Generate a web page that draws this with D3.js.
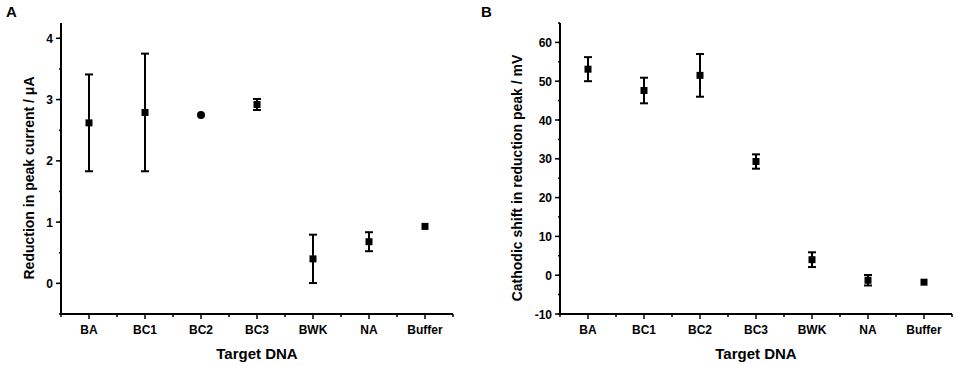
<!DOCTYPE html>
<html>
<head>
<meta charset="utf-8">
<script src="https://cdn.jsdelivr.net/npm/d3@7/dist/d3.min.js"></script>
<style>
  body { margin: 0; background: #fff; }
  svg { font-family: "Liberation Sans", Arial, sans-serif; font-weight: bold; }
</style>
</head>
<body>
<svg id="chart" width="957" height="366"></svg>
<script>
const categories = ["BA", "BC1", "BC2", "BC3", "BWK", "NA", "Buffer"];

// panel A: reduction in peak current (uA)
const currentMean = [2.62, 2.79, 2.75, 2.92, 0.40, 0.68, 0.93];
const currentErr = [0.79, 0.96, 0.02, 0.09, 0.395, 0.155, 0.02];
const currentShape = ["square", "square", "circle", "square", "square", "square", "square"];
const currentTicks = [0, 1, 2, 3, 4];

// panel B: cathodic shift (mV)
const shiftMean = [53.1, 47.6, 51.5, 29.3, 4.0, -1.3, -1.8];
const shiftErr = [3.1, 3.3, 5.5, 1.85, 1.9, 1.35, 0.2];
const shiftTicks = [-10, 0, 10, 20, 30, 40, 50, 60];

const svg = d3.select("#chart");

function panel(opt) {
  let g = svg.append("g");
  let x = d3.scaleLinear().domain([0.5, 7.5]).range([opt.left, opt.left + 392]);
  let y = d3.scaleLinear().domain(opt.yDomain).range([314, 23]);

  // y axis
  let yMinor = [];
  for (let v = opt.yDomain[0]; v <= opt.yDomain[1] + 1e-9; v += opt.minorStep) yMinor.push(v);

  g.append("line")
    .attr("x1", opt.left).attr("x2", opt.left)
    .attr("y1", y.range()[0]).attr("y2", y.range()[1])
    .attr("stroke", "#000").attr("stroke-width", 2);

  g.selectAll(".yminor").data(yMinor).enter().append("line")
    .attr("x1", opt.left - 2).attr("x2", opt.left)
    .attr("y1", (d) => y(d)).attr("y2", (d) => y(d))
    .attr("stroke", "#000").attr("stroke-width", 1.5);

  g.selectAll(".ymajor").data(opt.ticks).enter().append("line")
    .attr("x1", opt.left - 5).attr("x2", opt.left)
    .attr("y1", (d) => y(d)).attr("y2", (d) => y(d))
    .attr("stroke", "#000").attr("stroke-width", 1.5);

  g.selectAll(".ylab").data(opt.ticks).enter().append("text")
    .attr("x", opt.left - 8).attr("y", (d) => y(d) + 4.5)
    .attr("text-anchor", "end").attr("font-size", 12)
    .text((d) => d);

  // x axis
  g.append("line")
    .attr("x1", x(0.5)).attr("x2", x(7.5))
    .attr("y1", 314).attr("y2", 314)
    .attr("stroke", "#000").attr("stroke-width", 2);

  let xMinor = d3.range(0.5, 7.6, 1);
  g.selectAll(".xminor").data(xMinor).enter().append("line")
    .attr("x1", (d) => x(d)).attr("x2", (d) => x(d))
    .attr("y1", 314).attr("y2", 317)
    .attr("stroke", "#000").attr("stroke-width", 1.5);

  g.selectAll(".xmajor").data(categories).enter().append("line")
    .attr("x1", (d, i) => x(i + 1)).attr("x2", (d, i) => x(i + 1))
    .attr("y1", 314).attr("y2", 319)
    .attr("stroke", "#000").attr("stroke-width", 1.5);

  g.selectAll(".xlab").data(categories).enter().append("text")
    .attr("x", (d, i) => x(i + 1)).attr("y", 334)
    .attr("text-anchor", "middle").attr("font-size", 12)
    .text((d) => d);

  g.append("text")
    .attr("x", x(4)).attr("y", 359)
    .attr("text-anchor", "middle").attr("font-size", 15)
    .text("Target DNA");

  g.append("text")
    .attr("transform", "translate(" + opt.titleX + ",178) rotate(-90)")
    .attr("text-anchor", "middle").attr("font-size", 14)
    .text(opt.title);

  g.append("text")
    .attr("x", opt.letterX).attr("y", 17)
    .attr("font-size", 15)
    .text(opt.letter);

  let pts = g.selectAll(".pt").data(opt.mean).enter().append("g");

  // error bars (skip the ones hidden behind the marker)
  pts.each(function (d, i) {
    let e = opt.err[i];
    if (y(d - e) - y(d + e) < 4) return;
    let s = d3.select(this);
    let cx = x(i + 1);
    s.append("line").attr("x1", cx).attr("x2", cx)
      .attr("y1", y(d - e)).attr("y2", y(d + e))
      .attr("stroke", "#000").attr("stroke-width", 2);
    [d - e, d + e].forEach(function (v) {
      s.append("line").attr("x1", cx - 4).attr("x2", cx + 4)
        .attr("y1", y(v)).attr("y2", y(v))
        .attr("stroke", "#000").attr("stroke-width", 2);
    });
  });

  // markers
  pts.each(function (d, i) {
    let s = d3.select(this);
    if (opt.shape && opt.shape[i] === "circle") {
      s.append("circle").attr("cx", x(i + 1)).attr("cy", y(d)).attr("r", 4).attr("fill", "#000");
    } else {
      s.append("rect").attr("x", x(i + 1) - 3.5).attr("y", y(d) - 3.5)
        .attr("width", 7).attr("height", 7).attr("fill", "#000");
    }
  });
}

panel({
  left: 61, yDomain: [-0.5, 4.25], ticks: currentTicks, minorStep: 0.5,
  mean: currentMean, err: currentErr, shape: currentShape,
  title: "Reduction in peak current / \u03bcA", titleX: 34,
  letter: "A", letterX: 6
});

panel({
  left: 560, yDomain: [-10, 65], ticks: shiftTicks, minorStep: 5,
  mean: shiftMean, err: shiftErr,
  title: "Cathodic shift in reduction peak / mV", titleX: 522,
  letter: "B", letterX: 481
});
</script>
</body>
</html>
